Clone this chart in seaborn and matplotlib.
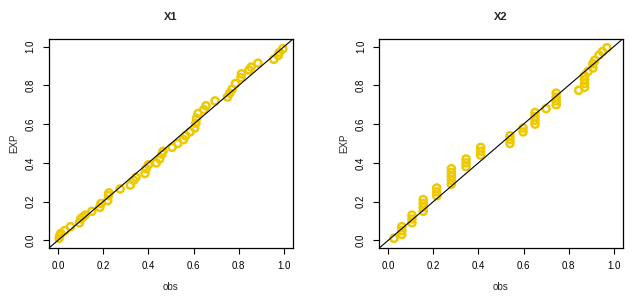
import numpy as np
import pandas as pd
import matplotlib
matplotlib.use("Agg")
import matplotlib.pyplot as plt
import seaborn as sns

# ---- data ----
x1_obs = [0.005, 0.008, 0.012, 0.03, 0.055, 0.095, 0.10, 0.11, 0.12, 0.15,
          0.185, 0.19, 0.22, 0.223, 0.225, 0.275, 0.32, 0.335, 0.345, 0.385,
          0.39, 0.40, 0.435, 0.45, 0.46, 0.465, 0.505, 0.53, 0.555, 0.565,
          0.585, 0.605, 0.61, 0.613, 0.62, 0.645, 0.655, 0.695, 0.75, 0.76,
          0.77, 0.785, 0.81, 0.812, 0.845, 0.855, 0.885, 0.955, 0.975, 0.98,
          0.995]
x1_exp = [0.01, 0.025, 0.035, 0.05, 0.07, 0.09, 0.11, 0.12, 0.13, 0.15,
          0.17, 0.19, 0.205, 0.23, 0.245, 0.265, 0.285, 0.31, 0.325, 0.345,
          0.37, 0.39, 0.40, 0.42, 0.445, 0.46, 0.48, 0.50, 0.52, 0.54,
          0.56, 0.58, 0.605, 0.63, 0.655, 0.675, 0.695, 0.72, 0.74, 0.76,
          0.78, 0.81, 0.84, 0.86, 0.88, 0.895, 0.915, 0.935, 0.955, 0.97,
          0.99]

x2_obs = [0.025,
          0.06, 0.06, 0.06,
          0.105, 0.105, 0.105,
          0.155, 0.155, 0.155, 0.155,
          0.215, 0.215, 0.215,
          0.28, 0.28, 0.28, 0.28, 0.28,
          0.345, 0.345, 0.345,
          0.41, 0.41, 0.41,
          0.54, 0.54, 0.54,
          0.598, 0.598,
          0.651, 0.651, 0.651, 0.651,
          0.70,
          0.745, 0.745, 0.745, 0.745,
          0.845,
          0.871, 0.871, 0.871, 0.871,
          0.886, 0.908, 0.908, 0.916, 0.935, 0.95, 0.97]
x2_exp = [0.01,
          0.03, 0.05, 0.07,
          0.09, 0.11, 0.13,
          0.15, 0.17, 0.19, 0.21,
          0.23, 0.25, 0.27,
          0.29, 0.31, 0.33, 0.35, 0.37,
          0.38, 0.40, 0.42,
          0.44, 0.46, 0.48,
          0.50, 0.52, 0.54,
          0.56, 0.58,
          0.60, 0.62, 0.64, 0.66,
          0.68,
          0.70, 0.72, 0.74, 0.76,
          0.775,
          0.79, 0.81, 0.83, 0.85,
          0.872, 0.89, 0.912, 0.93, 0.957, 0.975, 0.995]

panels = [("X1", x1_obs, x1_exp), ("X2", x2_obs, x2_exp)]
ticks = [0.0, 0.2, 0.4, 0.6, 0.8, 1.0]
tick_labels = ["0.0", "0.2", "0.4", "0.6", "0.8", "1.0"]

GOLD = "#EEC900"

sns.set_style("ticks")
plt.rcParams["font.family"] = ["Liberation Sans", "DejaVu Sans"]

fig = plt.figure(figsize=(6.41, 2.99), dpi=100)
axes = [fig.add_axes([0.0764, 0.1706, 0.3807, 0.699]),
        fig.add_axes([0.5917, 0.1706, 0.3797, 0.699])]

for ax, (title, obs, exp) in zip(axes, panels):
    df = pd.DataFrame({"obs": obs, "EXP": exp})
    sns.scatterplot(data=df, x="obs", y="EXP", ax=ax, marker="o", s=26,
                    facecolors="none", edgecolor=GOLD, linewidth=1.8,
                    legend=False)
    ax.axline((0, 0), slope=1, color="black", linewidth=0.8)
    ax.set_xlim(-0.04, 1.04)
    ax.set_ylim(-0.04, 1.04)
    ax.set_xticks(ticks)
    ax.set_xticklabels(tick_labels)
    ax.set_yticks(ticks)
    ax.set_yticklabels(tick_labels, rotation=90, va="center")
    ax.tick_params(axis="both", direction="out", length=4.5, width=0.8,
                   labelsize=7, pad=5, colors="black")
    for sp in ax.spines.values():
        sp.set_visible(True)
        sp.set_linewidth(0.9)
        sp.set_color("black")
    ax.set_title(title, fontsize=8, fontweight="bold", pad=14)
    ax.set_xlabel("obs", fontsize=7, labelpad=8)
    ax.set_ylabel("EXP", fontsize=7, labelpad=5)

fig.savefig("out.png", dpi=100)
